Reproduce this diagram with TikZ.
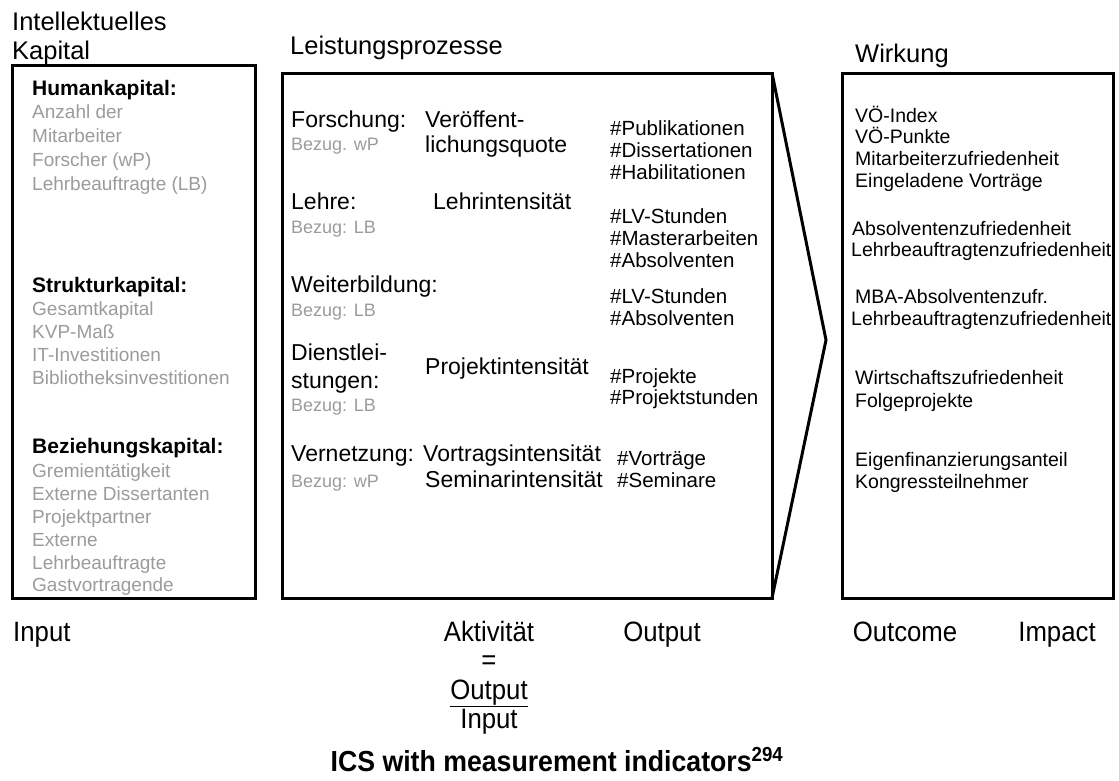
\documentclass[tikz,border=0pt]{standalone}
\usepackage{fontspec}
\setmainfont{Liberation Sans}
\newfontfamily\narrowfont{Liberation Sans}[FakeStretch=0.92]
\definecolor{greytext}{RGB}{155,155,155}
\begin{document}
\begin{tikzpicture}[x=1pt,y=-1pt,
  frame/.style={line width=3pt, line join=miter},
  bw/.style={inner sep=0pt, anchor=base west},
  ttl/.style={bw, font=\fontsize{25.5}{29}\selectfont},
  hd/.style={bw, font=\fontsize{21}{25}\selectfont\bfseries},
  gr/.style={bw, text=greytext, font=\fontsize{19}{23}\selectfont},
  grs/.style={bw, text=greytext, font=\fontsize{18}{22}\selectfont},
  cat/.style={bw, font=\fontsize{23}{27}\selectfont},
  outp/.style={bw, font=\fontsize{20.5}{24}\selectfont},
  eff/.style={bw, font=\fontsize{19.5}{23}\selectfont},
  lbl/.style={inner sep=0pt, anchor=base, font=\narrowfont\fontsize{28}{32}\selectfont},
  captxt/.style={inner sep=0pt, anchor=base, font=\narrowfont\fontsize{29}{33}\selectfont\bfseries}]
\useasboundingbox (0,0) rectangle (1119,780);

% frames
\coordinate (inTL) at (12,65);   \coordinate (inBR) at (255,598);
\coordinate (prTL) at (282,73);  \coordinate (prBR) at (772,598);
\coordinate (prTR) at (772,73);  \coordinate (tip) at (826,340);
\coordinate (wiTL) at (842,73);  \coordinate (wiBR) at (1113,598);
\draw[frame] (inTL) rectangle (inBR);
\draw[frame] (prTL) rectangle (prBR);
\draw[frame] (prTR) -- (tip) -- (prBR);
\draw[frame] (wiTL) rectangle (wiBR);

% column titles
\node[ttl] (tIK1) at (12,30) {Intellektuelles};
\node[ttl] (tIK2) at (12,59) {Kapital};
\node[ttl] (tLP) at (290,54) {Leistungsprozesse};
\node[ttl] (tWI) at (855,62) {Wirkung};

% intellectual capital
\node[hd] (hHK) at (32,95) {Humankapital:};
\node[gr] (h1) at (32,118) {Anzahl der};
\node[gr] (h2) at (32,142) {Mitarbeiter};
\node[gr] (h3) at (32,166) {Forscher (wP)};
\node[gr] (h4) at (32,190) {Lehrbeauftragte (LB)};

\node[hd] (hSK) at (32,292) {Strukturkapital:};
\node[gr] (s1) at (32,315) {Gesamtkapital};
\node[gr] (s2) at (32,338) {KVP-Maß};
\node[gr] (s3) at (32,361) {IT-Investitionen};
\node[gr] (s4) at (32,384) {Bibliotheksinvestitionen};

\node[hd] (hBK) at (32,453) {Beziehungskapital:};
\node[gr] (b1) at (32,477) {Gremientätigkeit};
\node[gr] (b2) at (32,500) {Externe Dissertanten};
\node[gr] (b3) at (32,523) {Projektpartner};
\node[gr] (b4) at (32,546) {Externe};
\node[gr] (b5) at (32,569) {Lehrbeauftragte};
\node[gr] (b6) at (32,591) {Gastvortragende};

% performance processes
\node[cat] (cF) at (291,127) {Forschung:};
\node[grs] (cFb) at (291,150) {Bezug. wP};
\node[cat] (aF1) at (425,127) {Veröffent-};
\node[cat] (aF2) at (425,152) {lichungsquote};
\node[outp] (oF1) at (610,135) {\#Publikationen};
\node[outp] (oF2) at (610,157) {\#Dissertationen};
\node[outp] (oF3) at (610,179) {\#Habilitationen};

\node[cat] (cL) at (291,209) {Lehre:};
\node[grs] (cLb) at (291,233) {Bezug: LB};
\node[cat] (aL) at (433,209) {Lehrintensität};
\node[outp] (oL1) at (610,223) {\#LV-Stunden};
\node[outp] (oL2) at (610,245) {\#Masterarbeiten};
\node[outp] (oL3) at (610,267) {\#Absolventen};

\node[cat] (cW) at (291,292) {Weiterbildung:};
\node[grs] (cWb) at (291,316) {Bezug: LB};
\node[outp] (oW1) at (610,303) {\#LV-Stunden};
\node[outp] (oW2) at (610,325) {\#Absolventen};

\node[cat] (cD1) at (291,360) {Dienstlei-};
\node[cat] (cD2) at (291,388) {stungen:};
\node[grs] (cDb) at (291,411) {Bezug: LB};
\node[cat] (aD) at (425,374) {Projektintensität};
\node[outp] (oD1) at (610,383) {\#Projekte};
\node[outp] (oD2) at (610,404) {\#Projektstunden};

\node[cat] (cV) at (291,461) {Vernetzung:};
\node[grs] (cVb) at (291,487) {Bezug: wP};
\node[cat] (aV1) at (423,461) {Vortragsintensität};
\node[cat] (aV2) at (425,487) {Seminarintensität};
\node[outp] (oV1) at (617,465) {\#Vorträge};
\node[outp] (oV2) at (617,487) {\#Seminare};

% effects
\node[eff] (w1) at (855,122) {VÖ-Index};
\node[eff] (w2) at (855,143) {VÖ-Punkte};
\node[eff] (w3) at (855,165) {Mitarbeiterzufriedenheit};
\node[eff] (w4) at (855,187) {Eingeladene Vorträge};
\node[eff] (w5) at (852,235) {Absolventenzufriedenheit};
\node[eff] (w6) at (851,256) {Lehrbeauftragtenzufriedenheit};
\node[eff] (w7) at (855,303) {MBA-Absolventenzufr.};
\node[eff] (w8) at (851,325) {Lehrbeauftragtenzufriedenheit};
\node[eff] (w9) at (855,384) {Wirtschaftszufriedenheit};
\node[eff] (w10) at (855,407) {Folgeprojekte};
\node[eff] (w11) at (855,466) {Eigenfinanzierungsanteil};
\node[eff] (w12) at (855,488) {Kongressteilnehmer};

% stage labels
\node[lbl, anchor=base west] (lIn) at (13,641) {Input};
\node[lbl] (lAk) at (489,641) {Aktivität};
\node[lbl] (lEq) at (489,669) {=};
\node[lbl] (lNum) at (489,699) {\underline{Output}};
\node[lbl] (lDen) at (489,728) {Input};
\node[lbl] (lOut) at (662,641) {Output};
\node[lbl] (lOc) at (905,641) {Outcome};
\node[lbl] (lIm) at (1057,641) {Impact};

% caption
\node[captxt] (caption) at (557,771) {ICS with measurement indicators\textsuperscript{294}};
\end{tikzpicture}
\end{document}
